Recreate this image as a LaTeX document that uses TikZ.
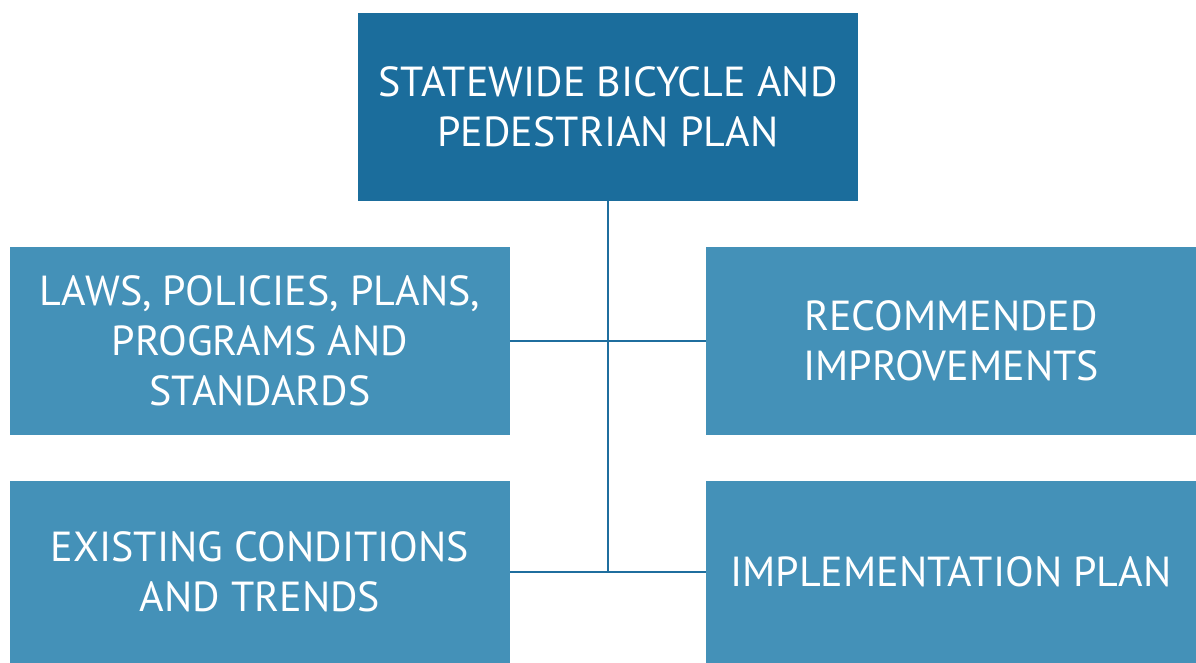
\documentclass[tikz,border=0pt]{standalone}
\usepackage{fontspec}
\setmainfont{PT Sans}
\definecolor{topblue}{HTML}{1B6D9C}
\definecolor{boxblue}{HTML}{4491B8}
\definecolor{linkblue}{HTML}{1F6E9E}
\begin{document}
\begin{tikzpicture}[x=1pt,y=-1pt,
  box/.style={fill=boxblue, draw=none, text=white, align=center, inner sep=0pt,
    font=\fontsize{42}{50}\selectfont},
  link/.style={draw=linkblue, line width=2.8pt}]
\useasboundingbox[fill=white] (0,0) rectangle (1196,663);
\node[box, fill=topblue, minimum width=500pt, minimum height=188pt] (top) at (608,107)
  {STATEWIDE BICYCLE AND\\PEDESTRIAN PLAN};
\node[box, minimum width=500pt, minimum height=188pt] (laws) at (260,341)
  {LAWS, POLICIES, PLANS,\\PROGRAMS AND\\STANDARDS};
\node[box, minimum width=490pt, minimum height=188pt] (rec) at (951,341)
  {RECOMMENDED\\IMPROVEMENTS};
\node[box, minimum width=500pt, minimum height=182pt] (exist) at (260,572)
  {EXISTING CONDITIONS\\AND TRENDS};
\node[box, minimum width=490pt, minimum height=182pt] (impl) at (951,572)
  {IMPLEMENTATION PLAN};
\coordinate (bot) at (top.south |- exist.east);
\draw[link] (top.south) -- (bot);
\draw[link] (laws.east) -- (rec.west);
\draw[link] (exist.east) -- (impl.west);
\end{tikzpicture}
\end{document}
